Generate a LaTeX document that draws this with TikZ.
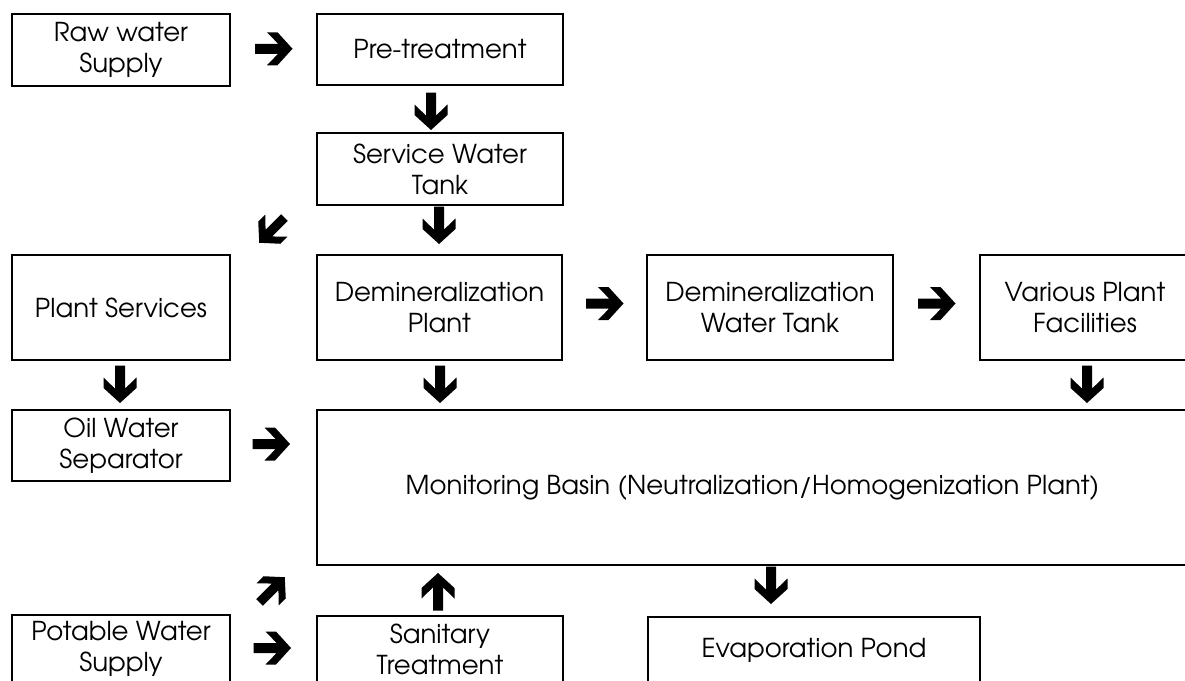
\documentclass[tikz,border=0pt]{standalone}
\usepackage{fontspec}
\setmainfont{TeX Gyre Adventor}
\usetikzlibrary{calc}
\begin{document}
\begin{tikzpicture}[x=1pt,y=-1pt,
  box/.style={draw, line width=2.6pt, align=center, inner sep=0pt,
    font=\fontsize{26}{31}\selectfont},
  fat/.pic={\fill[black] (-18.5,-5) -- (4.6,-5) -- (-6.5,-16.5) -- (4,-16.5) -- (19,0)
     -- (4,16.5) -- (-6.5,16.5) -- (4.6,5) -- (-18.5,5) -- cycle;}]
\useasboundingbox (0,0) rectangle (1185,680);
\clip (0,0) rectangle (1185,680);
% boxes
\node[box, minimum width=218pt, minimum height=72pt] (raw) at (121,50) {Raw water\\Supply};
\node[box, minimum width=246pt, minimum height=71pt] (pre) at (440,49.5) {Pre-treatment};
\node[box, minimum width=246pt, minimum height=72pt] (swt) at (440,169) {Service Water\\Tank};
\node[box, minimum width=218pt, minimum height=105pt] (ps) at (121,307.5) {Plant Services};
\node[box, minimum width=245pt, minimum height=105pt] (dp) at (439.5,307.5) {Demineralization\\Plant};
\node[box, minimum width=246pt, minimum height=105pt] (dwt) at (770,307.5) {Demineralization\\Water Tank};
\node[box, minimum width=210pt, minimum height=105pt] (vpf) at (1085,307.5) {Various Plant\\Facilities};
\node[box, minimum width=218pt, minimum height=71pt] (ows) at (121,445.5) {Oil Water\\Separator};
\node[box, minimum width=871pt, minimum height=155pt] (mb) at (752.5,487.5) {Monitoring Basin (Neutralization/Homogenization Plant)};
\node[box, minimum width=218pt, minimum height=68pt] (pws) at (121,649) {Potable Water\\Supply};
\node[box, minimum width=246pt, minimum height=66pt] (san) at (440,649) {Sanitary\\Treatment};
\node[box, minimum width=332pt, minimum height=66pt] (evp) at (814,650) {Evaporation Pond};
% arrows
\pic at ($(raw.east)!0.5!(pre.west)+(0,-1)$) {fat};
\pic[rotate=-90] at (431,111) {fat};
\pic[rotate=-90] at (439,225) {fat};
\pic[rotate=-135, scale=0.95] at (272,230) {fat};
\pic at ($(dp.east)!0.5!(dwt.west)+(0,-4)$) {fat};
\pic at ($(dwt.east)!0.5!(vpf.west)+(0,-4)$) {fat};
\pic[rotate=-90] at (120,384) {fat};
\pic[rotate=-90] at (440,384) {fat};
\pic[rotate=-90] at (1087,384) {fat};
\pic at (271,444) {fat};
\pic[rotate=45, scale=0.95] at (272,590) {fat};
\pic[rotate=90] at (438,592) {fat};
\pic[rotate=-90] at (771,585) {fat};
\pic at (272,648) {fat};
\end{tikzpicture}
\end{document}
